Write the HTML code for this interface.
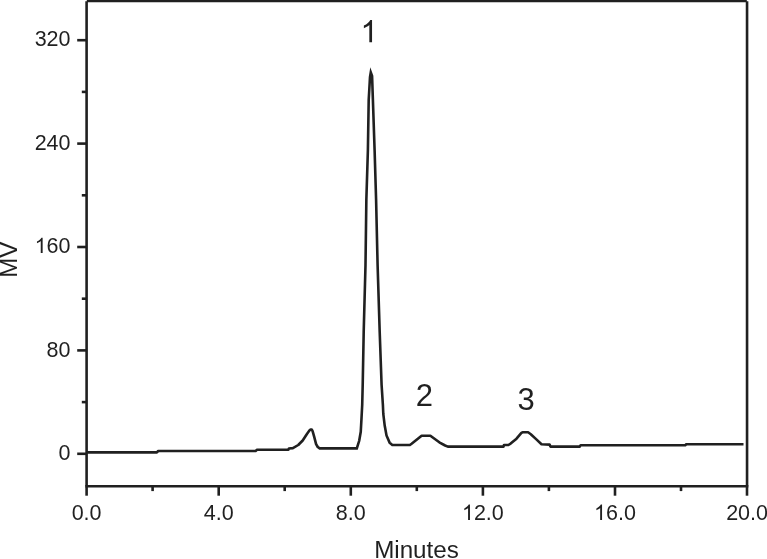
<!DOCTYPE html>
<html>
<head>
<meta charset="utf-8">
<title>Chromatogram</title>
<style>
  html, body { margin: 0; padding: 0; background: #ffffff; }
  body { width: 767px; height: 559px; overflow: hidden; font-family: "Liberation Sans", sans-serif; }
  svg { display: block; filter: grayscale(1); }
  text { font-family: "Liberation Sans", sans-serif; fill: #231f20; }
</style>
</head>
<body>
<svg width="767" height="559" viewBox="0 0 767 559">
  <defs>
    <path id="one" d="M763 0H583V1147Q518 1085 412.5 1023T223 930V1104Q374 1175 487 1276T647 1472H763Z" fill="#231f20"/>
  </defs>
  <rect x="0" y="0" width="767" height="559" fill="#ffffff"/>

  <g stroke="#231f20" stroke-width="2.6" fill="none">
    <line x1="86.8" y1="1.05" x2="746.8" y2="1.05"/>
    <line x1="85.30" y1="486.3" x2="748.35" y2="486.3"/>
    <line x1="86.6" y1="1.3" x2="86.6" y2="486.3"/>
    <line x1="747.05" y1="1.3" x2="747.05" y2="486.3"/>
  </g>
  <g stroke="#231f20" stroke-width="2.6" fill="none">
    <line x1="77.2" y1="40.2" x2="86.6" y2="40.2"/>
    <line x1="77.2" y1="143.6" x2="86.6" y2="143.6"/>
    <line x1="77.2" y1="247.0" x2="86.6" y2="247.0"/>
    <line x1="77.2" y1="350.4" x2="86.6" y2="350.4"/>
    <line x1="77.2" y1="453.8" x2="86.6" y2="453.8"/>
    <line x1="81.8" y1="91.9" x2="86.6" y2="91.9"/>
    <line x1="81.8" y1="195.3" x2="86.6" y2="195.3"/>
    <line x1="81.8" y1="298.7" x2="86.6" y2="298.7"/>
    <line x1="81.8" y1="402.1" x2="86.6" y2="402.1"/>
    <line x1="86.6" y1="486.3" x2="86.6" y2="495.7"/>
    <line x1="218.7" y1="486.3" x2="218.7" y2="495.7"/>
    <line x1="350.8" y1="486.3" x2="350.8" y2="495.7"/>
    <line x1="482.9" y1="486.3" x2="482.9" y2="495.7"/>
    <line x1="615.0" y1="486.3" x2="615.0" y2="495.7"/>
    <line x1="747.0" y1="486.3" x2="747.0" y2="495.7"/>
    <line x1="152.6" y1="486.3" x2="152.6" y2="491.1"/>
    <line x1="284.7" y1="486.3" x2="284.7" y2="491.1"/>
    <line x1="416.8" y1="486.3" x2="416.8" y2="491.1"/>
    <line x1="548.9" y1="486.3" x2="548.9" y2="491.1"/>
    <line x1="681.0" y1="486.3" x2="681.0" y2="491.1"/>
  </g>
  <g font-size="21.5" text-anchor="end">
    <text x="70.5" y="46.3">320</text>
    <text x="70.5" y="149.7">240</text>
    <use href="#one" transform="translate(34.63 253.10) scale(0.010498 -0.010498)"/>
    <text x="70.5" y="253.1">60</text>
    <text x="70.5" y="356.5">80</text>
    <text x="70.5" y="459.9">0</text>
  </g>
  <g font-size="21.5" text-anchor="start">
    <text x="71.66" y="520.0">0.0</text>
    <text x="203.75" y="520.0">4.0</text>
    <text x="335.84" y="520.0">8.0</text>
    <use href="#one" transform="translate(461.95 520.00) scale(0.010498 -0.010498)"/>
    <text x="473.90" y="520.0">2.0</text>
    <use href="#one" transform="translate(594.04 520.00) scale(0.010498 -0.010498)"/>
    <text x="605.99" y="520.0">6.0</text>
    <text x="726.13" y="520.0">20.0</text>
  </g>
  <text x="416.5" y="558.4" font-size="24.2" text-anchor="middle">Minutes</text>
  <text transform="translate(16.5 259.7) rotate(-90)" font-size="24.0" text-anchor="middle">MV</text>
  <use href="#one" transform="translate(360.50 42.30) scale(0.015137 -0.015137)"/>
  <text x="424.46" y="406.4" font-size="31.0" text-anchor="middle">2</text>
  <text x="526.08" y="409.6" font-size="31.0" text-anchor="middle">3</text>
  <g fill="none" stroke="#231f20" stroke-width="2.6">
    <path stroke-linejoin="round" d="M86.7 452.4 L156.9 452.4 L158.2 451 L255.6 451 L257 449.8 L288.4 449.8 L288.9 448.5
 L292.9 448.1 L298.25 445.0 L302.7 440.5 L306.75 434.2 L309.4 430.6 L310.6 429.6 L311.8 429.6 L312.6 431.1 L314.35 437.4 L316.1 444.1 L317.75 447.0 L319.7 448.4
 L340 448.4"/>
    <path stroke-linejoin="miter" stroke-miterlimit="10" d="M340 448.4 L356.8 448.4 L359.2 440.8 L360.75 431.8 L361.5 418.4 L362.2 405 L362.7 385 L363.7 332 L365.5 265 L366.35 200 L367.9 150 L368.7 100 L370.0 77.2 L370.78 72.35
 L372.08 75.94 L372.9 100 L374.6 150 L376.1 200 L377.6 265 L379.7 332 L381.6 385 L382.9 405 L383.3 414 L384.7 425.6 L386.5 435.4 L389.6 442.6 L392.3 445.0
 L402 445.0"/>
    <path stroke-linejoin="round" d="M402 445.0 L409.9 445.0 L411.6 443.8 L421.6 435.7 L430.4 435.7 L439.3 442.3 L445.1 445.5 L447.8 446.6
 L503.5 446.6 L504.0 445.0 L508.4 445.0 L510.65 443.6 L516.5 438.7 L521.4 432.9 L522.5 432.3 L528.1 432.3 L530.8 434.2 L536.1 439.15 L541.5 444.3 L549.6 444.6 L550.4 446.6
 L579.6 446.6 L580.6 445.3 L685.2 445.3 L686.2 444.25 L743.5 444.25"/>
  </g>
</svg>
</body>
</html>
